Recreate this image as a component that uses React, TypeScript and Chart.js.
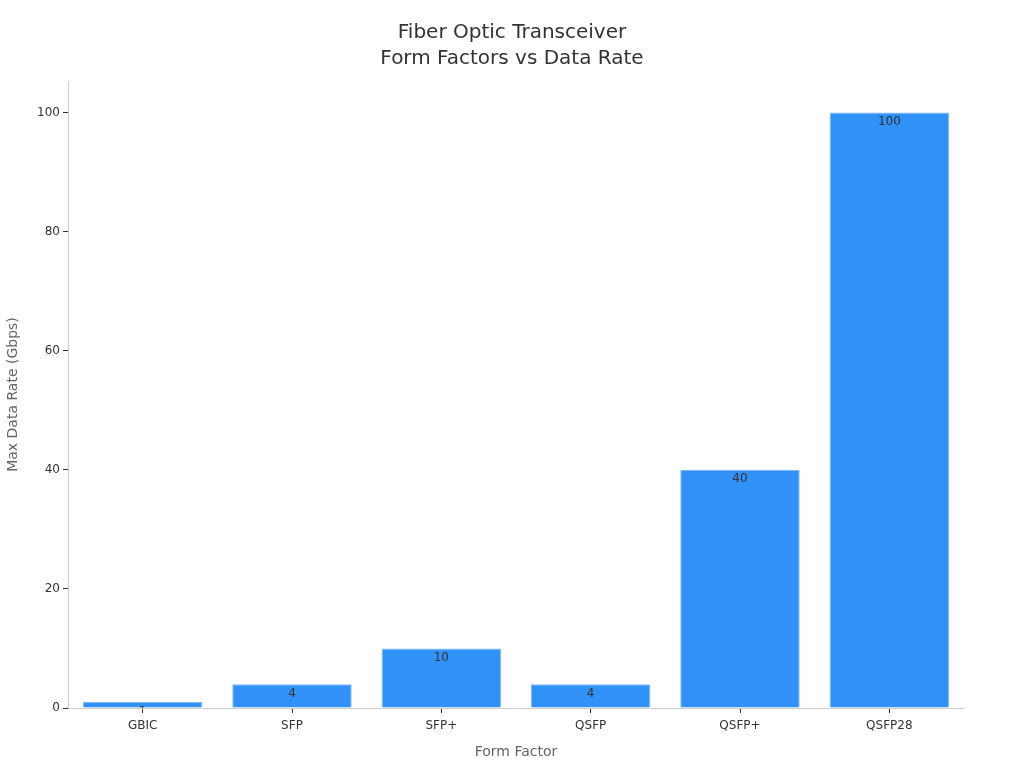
import React, { useEffect, useRef } from "react";
import { Chart, registerables } from "chart.js";

Chart.register(...registerables);

const categories = ["GBIC", "SFP", "SFP+", "QSFP", "QSFP+", "QSFP28"];
const dataRates = [1, 4, 10, 4, 40, 100];
const yTickValues = [0, 20, 40, 60, 80, 100];
const titleLines = ["Fiber Optic Transceiver", "Form Factors vs Data Rate"];
const xTitle = "Form Factor";
const yTitle = "Max Data Rate (Gbps)";

const FONT = "'DejaVu Sans', sans-serif";

const valueLabels = {
  id: "valueLabels",
  afterDatasetsDraw(chart: any) {
    const { ctx, chartArea } = chart;
    const meta = chart.getDatasetMeta(0);
    ctx.save();
    ctx.beginPath();
    ctx.rect(chartArea.left, chartArea.top, chartArea.right - chartArea.left, chartArea.bottom - chartArea.top);
    ctx.clip();
    ctx.fillStyle = "#333333";
    ctx.font = `12px ${FONT}`;
    ctx.textAlign = "center";
    ctx.textBaseline = "middle";
    meta.data.forEach((bar: any, i: number) => {
      ctx.fillText(String(dataRates[i]), bar.x, bar.y + 9.5);
    });
    ctx.restore();
  },
};

const centeredTitle = {
  id: "centeredTitle",
  afterDraw(chart: any) {
    const { ctx, width } = chart;
    ctx.save();
    ctx.fillStyle = "#333333";
    ctx.font = `20px ${FONT}`;
    ctx.textAlign = "center";
    ctx.textBaseline = "middle";
    titleLines.forEach((line, i) => {
      ctx.fillText(line, width / 2, 33 + i * 26);
    });
    ctx.restore();
  },
};

export default function App() {
  const ref = useRef<HTMLCanvasElement | null>(null);
  useEffect(() => {
    if (!ref.current) return;
    const chart = new Chart(ref.current, {
      type: "bar",
      data: {
        labels: categories,
        datasets: [
          {
            data: dataRates,
            backgroundColor: "#3091F7",
            borderColor: "#7ab8f8",
            borderWidth: 1,
            barPercentage: 0.8,
            categoryPercentage: 1,
          },
        ],
      },
      options: {
        animation: false,
        responsive: false,
        maintainAspectRatio: false,
        layout: { padding: { left: 0, right: 60, top: 81, bottom: 0 } },
        plugins: {
          legend: { display: false },
          tooltip: { enabled: false },
          title: { display: false },
        },
        scales: {
          x: {
            grid: { drawOnChartArea: false, drawTicks: true, tickLength: 5, color: "#333333", offset: false },
            border: { display: true, color: "#cccccc" },
            ticks: { color: "#333333", font: { family: FONT, size: 12 }, padding: 6 },
            title: {
              display: true,
              text: xTitle,
              color: "#666666",
              font: { family: FONT, size: 14 },
              padding: { top: 7, bottom: 7 },
            },
            afterFit: (s: any) => {
              s.height = 60;
            },
          },
          y: {
            min: 0,
            max: 105.3,
            grid: { drawOnChartArea: false, drawTicks: true, tickLength: 5, color: "#333333" },
            border: { display: true, color: "#cccccc" },
            afterBuildTicks: (s: any) => {
              s.ticks = yTickValues.map((v) => ({ value: v }));
            },
            ticks: {
              color: "#333333",
              font: { family: FONT, size: 12 },
              padding: 3,
              callback: (v: any) => String(v),
            },
            title: {
              display: true,
              text: yTitle,
              color: "#666666",
              font: { family: FONT, size: 14 },
              padding: { top: 5, bottom: 5 },
            },
            afterFit: (s: any) => {
              s.width = 68;
            },
          },
        },
      },
      plugins: [valueLabels, centeredTitle],
    });
    return () => chart.destroy();
  }, []);
  return (
    <div style={{ position: "absolute", left: 0, top: 0, width: 1024, height: 768, background: "#fff" }}>
      <canvas ref={ref} width={1024} height={768} style={{ width: 1024, height: 768, display: "block" }} />
    </div>
  );
}
